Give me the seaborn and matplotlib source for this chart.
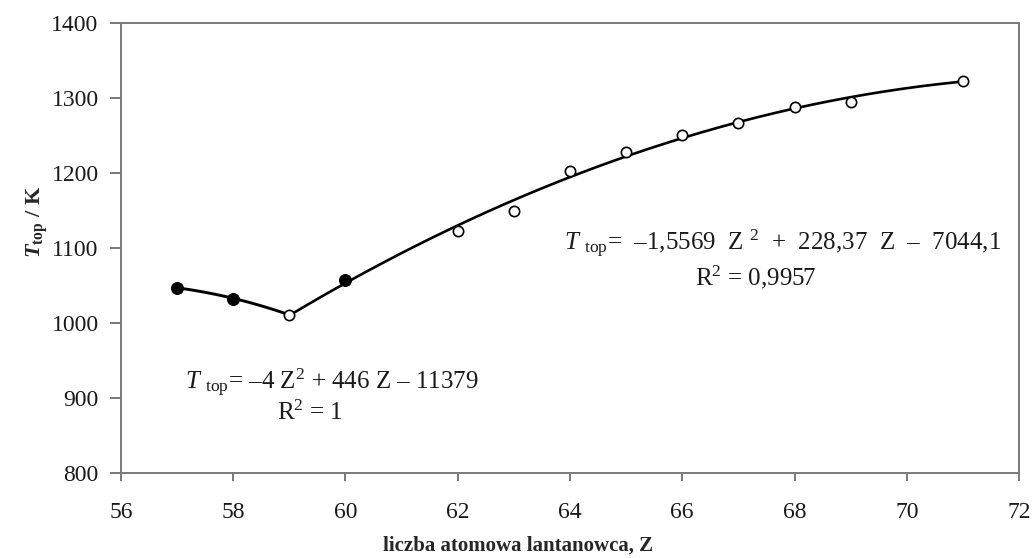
import numpy as np
import pandas as pd
import matplotlib
matplotlib.use("Agg")
import matplotlib.pyplot as plt
import seaborn as sns

# data
z_filled = [57, 58, 60]
t_filled = [1047, 1032, 1058]
z_open = [59, 62, 63, 64, 65, 66, 67, 68, 69, 71]
t_open = [1011, 1123, 1150, 1202, 1228, 1251, 1267, 1288, 1294, 1322]

# trendline coefficients shown in chart (a, b, c) and ranges
fit1_coef = [-4.0, 446.0, -11379.0]
fit1_range = [57, 59]
fit2_coef = [-1.5569, 228.37, -7044.1]
fit2_range = [59, 71]

x_ticks = [56, 58, 60, 62, 64, 66, 68, 70, 72]
y_ticks = [800, 900, 1000, 1100, 1200, 1300, 1400]

sns.set_theme(style="white")
plt.rcParams['font.family'] = ['Liberation Serif', 'DejaVu Serif']
plt.rcParams['mathtext.fontset'] = 'custom'
plt.rcParams['mathtext.rm'] = 'Liberation Serif'
plt.rcParams['mathtext.it'] = 'Liberation Serif:italic'
plt.rcParams['mathtext.bf'] = 'Liberation Serif:bold'
plt.rcParams['mathtext.bfit'] = 'Liberation Serif:bold:italic'

fig = plt.figure(figsize=(10.33, 5.58), dpi=100)
ax = fig.add_axes([0.117, 0.152, 0.8695, 0.807])

zz1 = np.linspace(fit1_range[0], fit1_range[1], 100)
zz2 = np.linspace(fit2_range[0], fit2_range[1], 300)
df1 = pd.DataFrame({"Z": zz1, "T": np.polyval(fit1_coef, zz1)})
df2 = pd.DataFrame({"Z": zz2, "T": np.polyval(fit2_coef, zz2)})
sns.lineplot(data=df1, x="Z", y="T", ax=ax, color="black", linewidth=2.1, zorder=2)
sns.lineplot(data=df2, x="Z", y="T", ax=ax, color="black", linewidth=1.9, zorder=2)

sns.scatterplot(x=z_filled, y=t_filled, ax=ax, s=70, color="black",
                edgecolor="black", linewidth=1.0, zorder=3)
sns.scatterplot(x=z_open, y=t_open, ax=ax, s=55, facecolor="white",
                edgecolor="black", linewidth=1.2, zorder=3)

ax.set_xlim(56, 72)
ax.set_ylim(800, 1400)
ax.set_xticks(x_ticks)
ax.set_yticks(y_ticks)
ax.tick_params(axis='both', labelsize=17, colors='#1a1a1a', direction='out',
               color='#6e6e6e', width=1.3)
ax.tick_params(axis='y', length=8, left=True, pad=8)
ax.tick_params(axis='x', length=6, bottom=True, pad=15)
for sp in ax.spines.values():
    sp.set_visible(True)
    sp.set_color('#7a7a7a')
    sp.set_linewidth(1.4)

ax.set_xlabel("liczba atomowa lantanowca, Z", fontsize=15, fontweight='bold')
ax.xaxis.set_label_coords(0.442, -0.138)
ax.set_ylabel(r"$\mathbfit{T}_{\mathbf{top}}$ / K", fontsize=16, fontweight='bold')
ax.yaxis.set_label_coords(-0.079, 0.558)

ax.text(57.14, 920, r"$T$ $_{\rm top}$= –4 Z$^2$ + 446 Z – 11379", fontsize=18,
        ha='left', va='center', color='#1a1a1a')
ax.text(59.37, 881, r"R$^2$ = 1", fontsize=18, ha='center', va='center', color='#1a1a1a')
ax.text(63.9, 1105, r"$T$ $_{\rm top}$=  –1,5569  Z $^2$  +  228,37  Z  –  7044,1", fontsize=18,
        ha='left', va='center', color='#1a1a1a')
ax.text(67.3, 1061, r"R$^2$ = 0,9957", fontsize=18, ha='center', va='center', color='#1a1a1a')

fig.savefig("out.png", dpi=100)
